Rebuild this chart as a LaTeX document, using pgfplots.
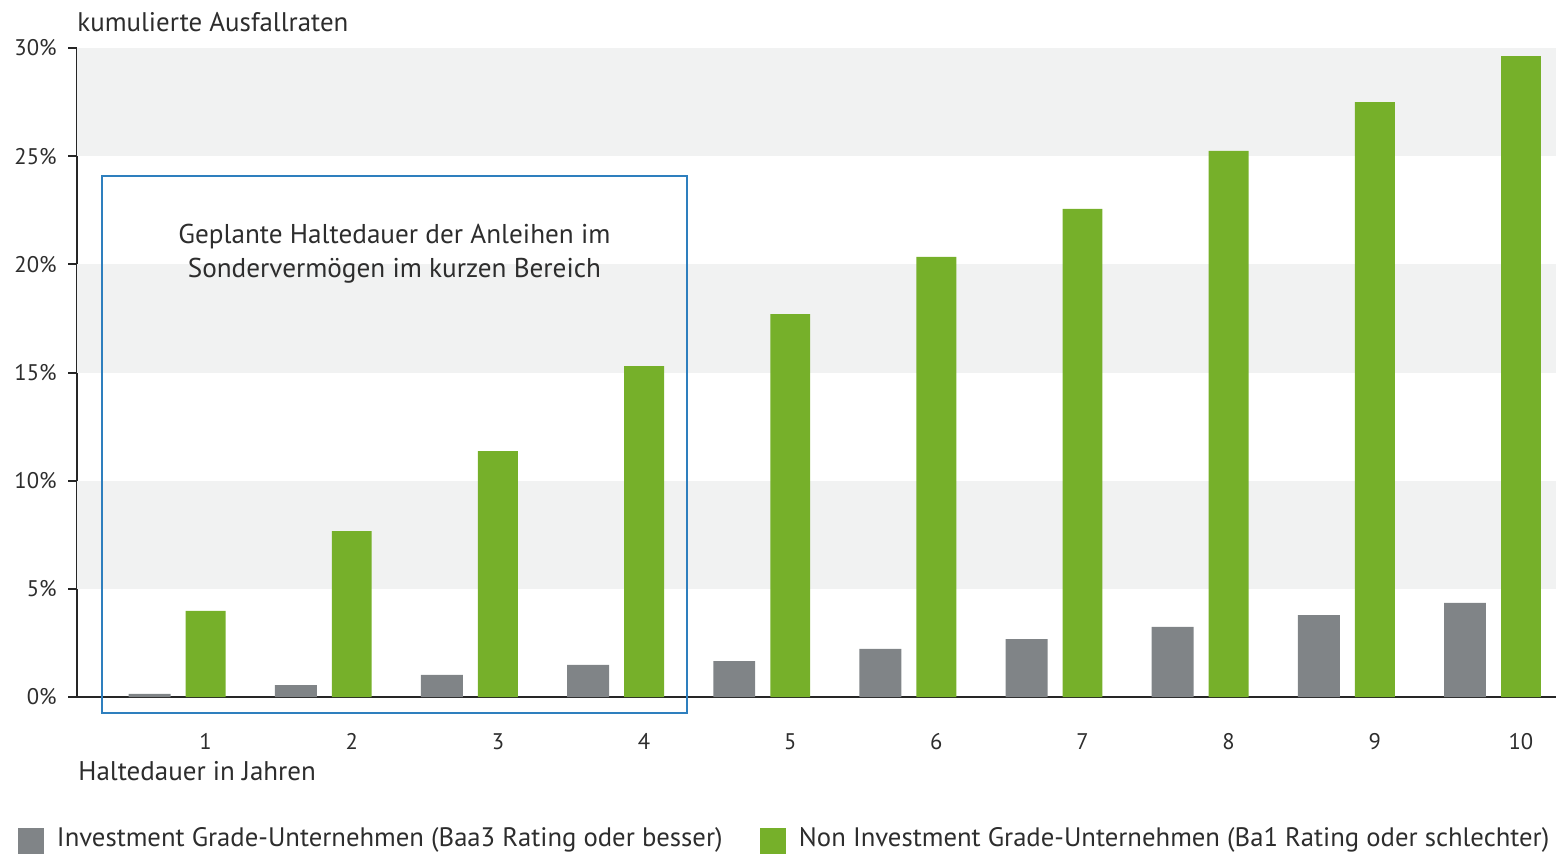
\documentclass[border=0pt]{standalone}
\usepackage{fontspec}
\setmainfont{PT Sans}
\usepackage{pgfplots}
\pgfplotsset{compat=1.18}
\definecolor{barGreen}{RGB}{118,176,42}
\definecolor{barGray}{RGB}{128,132,135}
\definecolor{band}{RGB}{241,242,242}
\definecolor{boxBlue}{RGB}{46,127,190}
\definecolor{txt}{RGB}{45,45,45}
\begin{document}
\begin{tikzpicture}
\useasboundingbox (0,0) rectangle (778pt,429pt);
\begin{axis}[
  at={(38.5pt,80.5pt)}, anchor=south west,
  scale only axis, width=739.5pt, height=324.5pt,
  xmin=0.12, xmax=10.24, ymin=0, ymax=30,
  axis x line*=bottom, axis y line*=left,
  axis line style={-, line width=1pt, black!85},
  xtick={1,...,10}, ytick={0,5,...,30},
  x tick style={draw=none}, y tick style={line width=1pt, black!85},
  tick align=outside, major tick length=4.5pt,
  yticklabel={\pgfmathprintnumber{\tick}\%},
  /pgf/number format/assume math mode=true,
  ticklabel style={font=\fontsize{11.3}{13}\selectfont, text=txt},
  xticklabel style={anchor=north, inner sep=0pt, yshift=-13.5pt},
  yticklabel style={anchor=east, inner sep=0pt, xshift=-5.5pt},
  clip=false,
  title={kumulierte Ausfallraten},
  title style={at={(axis description cs:0,1)}, anchor=base west, yshift=2pt, inner sep=0pt, font=\fontsize{13.45}{16}\selectfont, text=txt},
  xlabel={Haltedauer in Jahren},
  xlabel style={at={(axis description cs:0,0)}, anchor=base west, yshift=-41.5pt, xshift=0.5pt, inner sep=0pt, font=\fontsize{13.5}{16}\selectfont, text=txt},
  legend columns=2,
  legend style={at={(axis description cs:-0.0399,-0.2018)}, anchor=north west, draw=none, fill=none, inner sep=0pt, outer sep=0pt,
    font=\fontsize{13.35}{16}\selectfont, text=txt,
    cells={anchor=base west}, nodes={inner sep=0pt},
    /tikz/column 1/.style={column sep=6.5pt},
    /tikz/column 2/.style={column sep=11.5pt},
    /tikz/column 3/.style={column sep=6.5pt}},
  legend image code/.code={\fill[#1] (0pt,-3.5pt) rectangle (13pt,9.5pt);},
]
% background bands
\fill[band] (axis cs:0.12,25) rectangle (axis cs:10.24,30);
\fill[band] (axis cs:0.12,15) rectangle (axis cs:10.24,20);
\fill[band] (axis cs:0.12,5) rectangle (axis cs:10.24,10);
% highlight box
\draw[boxBlue, line width=1pt] (axis cs:0.289,24.09) rectangle (axis cs:4.295,-0.74);
\node[align=center, anchor=base, inner sep=0pt, font=\fontsize{13.6}{17}\selectfont, text=txt] at (axis cs:2.292,19.37)
  {Geplante Haltedauer der Anleihen im\\Sondervermögen im kurzen Bereich};

\addplot[ybar, bar width=0.287, bar shift=-0.383, fill=barGray, draw=none] coordinates {
  (1,0.14) (2,0.55) (3,1.02) (4,1.48) (5,1.66) (6,2.22) (7,2.68) (8,3.24) (9,3.79) (10,4.35)};
\addlegendentry{\makebox[340pt][l]{Investment Grade-Unternehmen (Baa3 Rating oder besser)}}
\addplot[ybar, bar width=0.273, bar shift=0, fill=barGreen, draw=none] coordinates {
  (1,3.98) (2,7.67) (3,11.37) (4,15.30) (5,17.70) (6,20.34) (7,22.56) (8,25.24) (9,27.50) (10,29.63)};
\addlegendentry{Non Investment Grade-Unternehmen (Ba1 Rating oder schlechter)}
\end{axis}
\end{tikzpicture}
\end{document}
